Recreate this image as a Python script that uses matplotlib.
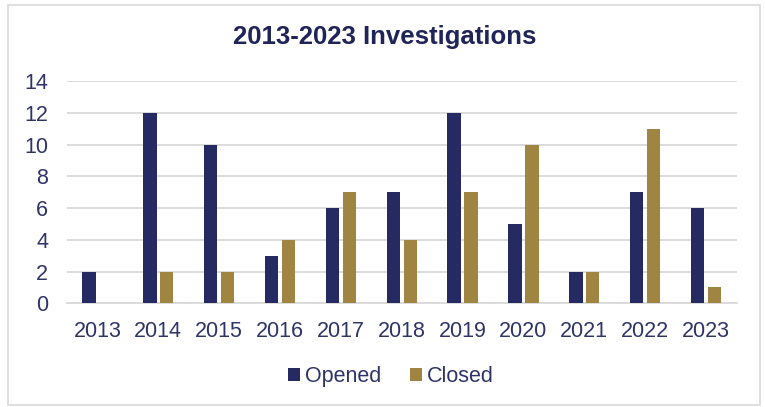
import numpy as np
import matplotlib.pyplot as plt
from matplotlib.patches import Rectangle

plt.rcParams['font.family'] = ['Liberation Sans', 'DejaVu Sans']

years = ['2013', '2014', '2015', '2016', '2017', '2018',
         '2019', '2020', '2021', '2022', '2023']
opened = [2, 12, 10, 3, 6, 7, 12, 5, 2, 7, 6]
closed = [0, 2, 2, 4, 7, 4, 7, 10, 2, 11, 1]

navy = '#262A62'
gold = '#A08542'
text_col = '#2E3468'
grid_col = '#D9D9D9'

fig = plt.figure(figsize=(7.65, 4.07), dpi=100)
ax = fig.add_axes([67 / 765, 1 - 303.3 / 407, 669.5 / 765, 222.3 / 407])

x = np.arange(len(years))
w = 0.22
off = 0.139
ax.bar(x - off, opened, width=w, color=navy, label='Opened', zorder=3)
ax.bar(x + off, closed, width=w, color=gold, label='Closed', zorder=3)

ax.set_xlim(-0.5, len(years) - 0.5)
ax.set_ylim(0, 14)
ax.set_yticks(range(0, 15, 2))
ax.set_xticks(x)
ax.set_xticklabels(years)
ax.yaxis.grid(True, color=grid_col, linewidth=1.3, zorder=0)
ax.set_axisbelow(True)
for s in ['top', 'right', 'left']:
    ax.spines[s].set_visible(False)
ax.spines['bottom'].set_color(grid_col)
ax.spines['bottom'].set_linewidth(1.3)
ax.tick_params(axis='both', length=0, labelsize=15.5, labelcolor=text_col)
ax.tick_params(axis='y', pad=13.5)
ax.tick_params(axis='x', pad=12.5)

fig.text(0.503, 1 - 36.7 / 407, '2013-2023 Investigations', ha='center', va='center',
         fontsize=18.5, fontweight='bold', color='#1F2459')

leg = fig.legend(loc='center', bbox_to_anchor=(391 / 765, 1 - 376.5 / 407), ncol=2,
                 frameon=False, fontsize=15.5, handlelength=0.55, handleheight=0.55,
                 handletextpad=0.25, columnspacing=1.3, borderpad=0)
for t in leg.get_texts():
    t.set_color(text_col)

# thin outer frame
fig.patches.append(Rectangle((8 / 765, 2 / 407), 752 / 765, 400 / 407,
                             transform=fig.transFigure, fill=False,
                             edgecolor='#D9D9D9', linewidth=1.2))

fig.savefig('out.png', dpi=100)
